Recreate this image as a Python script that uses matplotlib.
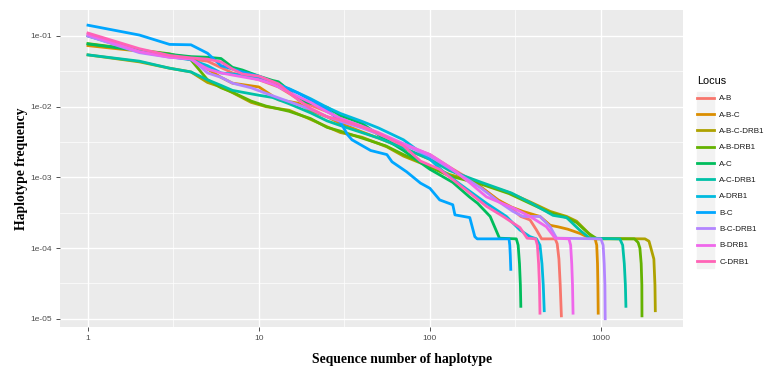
import numpy as np
import matplotlib
matplotlib.use('Agg')
import matplotlib.pyplot as plt
from matplotlib.patches import Rectangle

# values (rank, haplotype frequency)
ab_rank = [1, 2, 3, 4, 5, 7, 10, 13, 16, 20, 25, 30, 40, 50, 70, 100, 130, 170, 200, 250, 300, 340, 385, 420, 450, 540, 555, 568, 578, 587]
ab_freq = [0.100, 0.064, 0.052, 0.047, 0.044, 0.030, 0.024, 0.019, 0.014, 0.0105, 0.0085, 0.0068, 0.0052, 0.0042, 0.0029, 0.0021, 0.0014, 0.00095, 0.00072, 0.00048, 0.00036, 0.00028, 0.00025, 0.00018, 0.000135, 0.000135, 0.000115, 0.00007, 0.00003, 0.000011]

abc_rank = [1, 2, 3, 4, 5, 6, 7, 10, 13, 17, 20, 25, 30, 40, 50, 70, 100, 130, 170, 200, 250, 300, 350, 440, 505, 560, 640, 760, 870, 925, 945, 955, 960, 964]
abc_freq = [0.073, 0.061, 0.054, 0.050, 0.034, 0.026, 0.0215, 0.019, 0.0125, 0.0112, 0.0088, 0.0072, 0.0058, 0.0044, 0.0036, 0.0026, 0.0018, 0.0013, 0.00092, 0.00072, 0.00048, 0.00038, 0.00033, 0.00028, 0.00021, 0.00020, 0.000185, 0.00016, 0.000137, 0.000135, 0.00011, 0.00006, 0.00003, 0.000012]

abcd_rank = [1, 2, 3, 4, 5, 6, 7, 9, 11, 15, 19, 25, 30, 40, 56, 70, 88, 100, 130, 196, 290, 385, 505, 630, 720, 830, 910, 1810, 1910, 1960, 2040, 2070, 2080]
abcd_freq = [0.054, 0.043, 0.035, 0.031, 0.022, 0.019, 0.0158, 0.0115, 0.0100, 0.0089, 0.0070, 0.0052, 0.0043, 0.0037, 0.0027, 0.0020, 0.0016, 0.00145, 0.00110, 0.00083, 0.00061, 0.00045, 0.00033, 0.00028, 0.00024, 0.00017, 0.000137, 0.000135, 0.000125, 0.0001, 0.00007, 0.00003, 0.000013]

abd_rank = [1, 2, 3, 4, 5, 6, 7, 9, 11, 15, 20, 25, 30, 40, 55, 70, 90, 100, 130, 200, 290, 400, 500, 630, 720, 850, 950, 1570, 1650, 1690, 1720, 1735, 1738]
abd_freq = [0.078, 0.063, 0.056, 0.046, 0.024, 0.0185, 0.016, 0.012, 0.0102, 0.0086, 0.0068, 0.0051, 0.0045, 0.0036, 0.0028, 0.0021, 0.0016, 0.0014, 0.00105, 0.00080, 0.00059, 0.00041, 0.00032, 0.00027, 0.00023, 0.00016, 0.000135, 0.000135, 0.00012, 0.0001, 0.00006, 0.00003, 0.000011]

ac_rank = [1, 2, 3, 4, 5, 6, 7, 8, 10, 12, 13, 15, 17, 20, 25, 30, 40, 50, 70, 100, 136, 170, 190, 225, 255, 320, 328, 334, 338, 340]
ac_freq = [0.077, 0.062, 0.055, 0.051, 0.050, 0.048, 0.036, 0.033, 0.027, 0.0235, 0.0225, 0.017, 0.0125, 0.0112, 0.0098, 0.0075, 0.0058, 0.0040, 0.0024, 0.0013, 0.00085, 0.00053, 0.00043, 0.00028, 0.000138, 0.000135, 0.00011, 0.00006, 0.00003, 0.000015]

acd_rank = [1, 2, 3, 4, 5, 6, 7, 8, 10, 12, 15, 20, 25, 30, 40, 50, 70, 100, 130, 200, 300, 400, 525, 630, 750, 860, 1290, 1340, 1370, 1390, 1400]
acd_freq = [0.054, 0.044, 0.035, 0.031, 0.024, 0.020, 0.017, 0.016, 0.0145, 0.0135, 0.011, 0.0082, 0.0063, 0.0054, 0.0043, 0.0036, 0.0026, 0.0018, 0.00125, 0.00085, 0.00060, 0.00042, 0.00029, 0.00027, 0.00018, 0.000138, 0.000135, 0.00011, 0.00006, 0.00003, 0.000015]

ad_rank = [1, 2, 3, 4, 5, 6, 7, 8, 10, 12, 15, 20, 25, 30, 40, 50, 70, 100, 120, 150, 214, 280, 336, 385, 420, 440, 452, 460, 466]
ad_freq = [0.100, 0.060, 0.051, 0.046, 0.038, 0.030, 0.029, 0.028, 0.026, 0.022, 0.018, 0.013, 0.0098, 0.0080, 0.0062, 0.0050, 0.0034, 0.0018, 0.0012, 0.00080, 0.00043, 0.00028, 0.00018, 0.000145, 0.000135, 0.00011, 0.00006, 0.00003, 0.000013]

bc_rank = [1, 2, 3, 4, 5, 6, 8, 10, 12, 14, 17, 20, 22, 26, 30, 33, 35, 45, 56, 60, 73, 88, 100, 114, 136, 140, 171, 183, 189, 290, 293, 295, 297]
bc_freq = [0.142, 0.103, 0.076, 0.075, 0.057, 0.038, 0.031, 0.027, 0.022, 0.019, 0.0155, 0.0125, 0.0112, 0.0085, 0.0060, 0.0040, 0.0034, 0.0024, 0.0021, 0.00166, 0.0012, 0.00083, 0.0007, 0.00048, 0.00041, 0.000295, 0.00027, 0.000145, 0.000135, 0.000135, 0.00011, 0.00008, 0.00005]

bcd_rank = [1, 2, 3, 4, 5, 6, 7, 9, 11, 14, 17, 20, 25, 30, 40, 50, 70, 100, 130, 170, 200, 250, 306, 350, 440, 505, 550, 1000, 1030, 1045, 1055, 1059]
bcd_freq = [0.100, 0.058, 0.050, 0.048, 0.030, 0.026, 0.0215, 0.0185, 0.0154, 0.0125, 0.0106, 0.0092, 0.0072, 0.0062, 0.0050, 0.0041, 0.0029, 0.0020, 0.00135, 0.00090, 0.00070, 0.00046, 0.00033, 0.00028, 0.00028, 0.00020, 0.000138, 0.000135, 0.00011, 0.00006, 0.00003, 0.00001]

bd_rank = [1, 2, 3, 4, 5, 6, 7, 10, 12, 15, 20, 25, 30, 40, 50, 70, 100, 130, 170, 214, 306, 385, 480, 540, 650, 665, 675, 682, 687]
bd_freq = [0.105, 0.060, 0.050, 0.047, 0.034, 0.030, 0.028, 0.024, 0.021, 0.016, 0.0115, 0.0085, 0.0068, 0.0053, 0.0043, 0.0030, 0.0021, 0.0014, 0.00085, 0.00053, 0.00037, 0.00028, 0.00020, 0.000138, 0.000135, 0.00011, 0.00006, 0.00003, 0.000012]

cd_rank = [1, 2, 3, 4, 5, 6, 7, 8, 10, 13, 16, 20, 25, 30, 40, 50, 70, 88, 114, 136, 171, 214, 268, 336, 370, 415, 425, 432, 437, 440]
cd_freq = [0.110, 0.066, 0.053, 0.049, 0.047, 0.043, 0.034, 0.029, 0.027, 0.021, 0.0139, 0.0095, 0.0072, 0.0065, 0.0052, 0.0042, 0.0028, 0.0017, 0.0013, 0.00093, 0.00060, 0.00039, 0.00028, 0.000195, 0.000138, 0.000135, 0.00011, 0.00006, 0.00003, 0.000012]

loci = ['A-B', 'A-B-C', 'A-B-C-DRB1', 'A-B-DRB1', 'A-C', 'A-C-DRB1',
        'A-DRB1', 'B-C', 'B-C-DRB1', 'B-DRB1', 'C-DRB1']
ranks = [ab_rank, abc_rank, abcd_rank, abd_rank, ac_rank, acd_rank,
         ad_rank, bc_rank, bcd_rank, bd_rank, cd_rank]
freqs = [ab_freq, abc_freq, abcd_freq, abd_freq, ac_freq, acd_freq,
         ad_freq, bc_freq, bcd_freq, bd_freq, cd_freq]
colors = ['#F8766D', '#DB8E00', '#AEA200', '#64B200', '#00BD5C', '#00C1A7',
          '#00BADE', '#00A6FF', '#B385FF', '#EF67EB', '#FF63B6']

plt.rcParams['font.family'] = ['Liberation Sans', 'DejaVu Sans']

fig = plt.figure(figsize=(7.68, 3.66), dpi=100)
ax = fig.add_axes([60/768, 39/366, 623/768, 317/366])
ax.set_facecolor('#EBEBEB')
ax.set_xscale('log')
ax.set_yscale('log')
ax.set_xlim(0.686, 3020)
ax.set_ylim(7.65e-6, 0.233)

# ggplot-style grid: minor lines half way between decades
for v in [10**0.5, 10**1.5, 10**2.5]:
    ax.axvline(v, color='white', lw=0.5, zorder=0)
for v in [10**-1.5, 10**-2.5, 10**-3.5, 10**-4.5]:
    ax.axhline(v, color='white', lw=0.5, zorder=0)
for v in [1, 10, 100, 1000]:
    ax.axvline(v, color='white', lw=1.0, zorder=0)
for v in [1e-1, 1e-2, 1e-3, 1e-4, 1e-5]:
    ax.axhline(v, color='white', lw=1.0, zorder=0)

for name, r, f, c in zip(loci, ranks, freqs, colors):
    ax.plot(r, f, color=c, lw=2.0, label=name, solid_joinstyle='round')

ax.set_xticks([1, 10, 100, 1000])
ax.set_xticklabels(['1', '10', '100', '1000'])
ax.set_yticks([1e-1, 1e-2, 1e-3, 1e-4, 1e-5])
ax.set_yticklabels(['1e-01', '1e-02', '1e-03', '1e-04', '1e-05'])
ax.minorticks_off()
ax.tick_params(axis='both', colors='#333333', labelcolor='#4D4D4D',
               labelsize=6.0, length=3, width=0.6, pad=3)
for s in ax.spines.values():
    s.set_visible(False)

ax.set_xlabel('Sequence number of haplotype', family='Liberation Serif',
              fontweight='bold', fontsize=9.8)
ax.xaxis.set_label_coords(0.549, -0.082)
ax.set_ylabel('Haplotype frequency', family='Liberation Serif',
              fontweight='bold', fontsize=9.8)
ax.yaxis.set_label_coords(-0.052, 0.5)

# grey background behind legend keys
fig.patches.append(Rectangle((697/768, 1 - 268/366), 17/768, 176/366,
                             transform=fig.transFigure, color='#F2F2F2', zorder=0))
leg = fig.legend(loc='upper left', bbox_to_anchor=(697/768, 1 - 76/366),
                 frameon=False, title='Locus', fontsize=5.8, title_fontsize=7.8,
                 handlelength=2.1, handletextpad=0.65, labelspacing=1.08,
                 borderpad=0, borderaxespad=0, alignment='left')
for t in leg.get_texts():
    t.set_color('#1A1A1A')

fig.savefig('out.png', dpi=100)
